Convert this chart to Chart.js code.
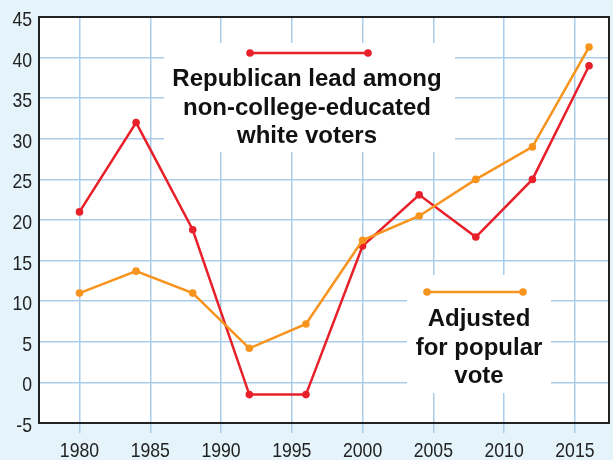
<!DOCTYPE html>
<html>
<head>
<meta charset="utf-8">
<script src="https://cdn.jsdelivr.net/npm/chart.js@4"></script>
<style>
html, body { margin: 0; padding: 0; background: #e5f3fb; }
#wrap { width: 613px; height: 460px; position: relative; }
</style>
</head>
<body>
<div id="wrap"><canvas id="myChart"></canvas></div>
<script>
// election years and the two series
var years = [1980, 1984, 1988, 1992, 1996, 2000, 2004, 2008, 2012, 2016];
var republicanLead = [21, 32, 18.8, -1.5, -1.5, 16.8, 23.1, 17.9, 25, 39];
var adjustedLead = [11, 13.7, 11, 4.2, 7.2, 17.5, 20.5, 25, 29, 41.3];

// tick labels
var xTicks = [1980, 1985, 1990, 1995, 2000, 2005, 2010, 2015];
var yTicks = [-5, 0, 5, 10, 15, 20, 25, 30, 35, 40, 45];

// legend text, one line per entry
var seriesNames = [
  ['Republican lead among', 'non-college-educated', 'white voters'],
  ['Adjusted', 'for popular', 'vote']
];

var RED = '#e8202a';
var ORANGE = '#f7941d';
var GRID = '#a9cdea';
var TICK_FONT = '21px "Liberation Sans", Arial, sans-serif';

function pts(ys) {
  return years.map(function (yr, i) { return { x: yr, y: ys[i] }; });
}

// legend boxes drawn on top of the grid (pixel layout)
var boxes = [
  { color: RED, names: seriesNames[0], x: 164, y: 43, w: 291, h: 109,
    x1: 250, x2: 368, ly: 53, tx: 307, base: [86, 114.5, 143] },
  { color: ORANGE, names: seriesNames[1], x: 407, y: 275, w: 144, h: 118,
    x1: 427, x2: 523, ly: 292, tx: 479, base: [326, 354.5, 383] }
];

// narrow text: squeeze horizontally
function narrowText(c, txt, x, y, align) {
  c.save();
  c.translate(x, y);
  c.scale(0.84, 1);
  c.textAlign = align;
  c.fillText(txt, 0, 0);
  c.restore();
}

var framePlugin = {
  id: 'frame',
  beforeDraw: function (chart) {
    var c = chart.ctx, a = chart.chartArea;
    c.save();
    c.fillStyle = '#e5f3fb';
    c.fillRect(0, 0, chart.width, chart.height);
    c.fillStyle = '#ffffff';
    c.fillRect(a.left, a.top, a.right - a.left, a.bottom - a.top);
    c.restore();
  },
  beforeDatasetsDraw: function (chart) {
    var c = chart.ctx, a = chart.chartArea;
    c.save();
    boxes.forEach(function (b) {
      c.fillStyle = '#ffffff';
      c.fillRect(b.x, b.y, b.w, b.h);
      c.strokeStyle = b.color;
      c.lineWidth = 2.5;
      c.beginPath();
      c.moveTo(b.x1, b.ly);
      c.lineTo(b.x2, b.ly);
      c.stroke();
      c.fillStyle = b.color;
      [b.x1, b.x2].forEach(function (px) {
        c.beginPath();
        c.arc(px, b.ly, 3.8, 0, Math.PI * 2);
        c.fill();
      });
      c.fillStyle = '#111';
      c.font = 'bold 24px "Liberation Sans", Arial, sans-serif';
      c.textAlign = 'center';
      c.textBaseline = 'alphabetic';
      b.names.forEach(function (t, i) {
        c.fillText(t, b.tx, b.base[i]);
      });
    });
    // dark frame round the plot
    c.strokeStyle = '#222';
    c.lineWidth = 2;
    c.strokeRect(a.left, a.top, a.right - a.left, a.bottom - a.top);

    // tick labels, placed through the scales
    var xs = chart.scales.x, ys = chart.scales.y;
    c.fillStyle = '#222';
    c.font = TICK_FONT;
    c.textBaseline = 'alphabetic';
    xTicks.forEach(function (v) {
      narrowText(c, String(v), xs.getPixelForValue(v), 457, 'center');
    });
    yTicks.forEach(function (v) {
      narrowText(c, String(v), 32, ys.getPixelForValue(v) + 9, 'right');
    });
    c.restore();
  }
};

var ctx = document.getElementById('myChart').getContext('2d');
var chart = new Chart(ctx, {
  type: 'line',
  data: {
    datasets: [{
      label: seriesNames[1].join(' '),
      data: pts(adjustedLead),
      borderColor: ORANGE,
      backgroundColor: ORANGE,
      borderWidth: 2.5,
      pointRadius: 3.8,
      pointBorderWidth: 0,
      tension: 0
    }, {
      label: seriesNames[0].join(' '),
      data: pts(republicanLead),
      borderColor: RED,
      backgroundColor: RED,
      borderWidth: 2.5,
      pointRadius: 3.8,
      pointBorderWidth: 0,
      tension: 0
    }]
  },
  options: {
    responsive: true,
    maintainAspectRatio: false,
    animation: false,
    layout: { padding: { top: 17, right: 1, left: 0, bottom: 0 } },
    plugins: { legend: { display: false }, tooltip: { enabled: false } },
    scales: {
      x: {
        type: 'linear',
        min: 1977.14,
        max: 2017.41,
        afterBuildTicks: function (s) { s.ticks = xTicks.map(function (v) { return { value: v }; }); },
        afterFit: function (s) { s.height = 37; },
        border: { display: false },
        grid: { color: GRID, lineWidth: 1.5, drawTicks: true, tickLength: 10, tickColor: GRID },
        ticks: { display: false }
      },
      y: {
        min: -5,
        max: 45,
        afterBuildTicks: function (s) { s.ticks = yTicks.map(function (v) { return { value: v }; }); },
        afterFit: function (s) { s.width = 39; },
        border: { display: false },
        grid: { color: GRID, lineWidth: 1.5, drawTicks: false },
        ticks: { display: false }
      }
    }
  },
  plugins: [framePlugin]
});
</script>
</body>
</html>
